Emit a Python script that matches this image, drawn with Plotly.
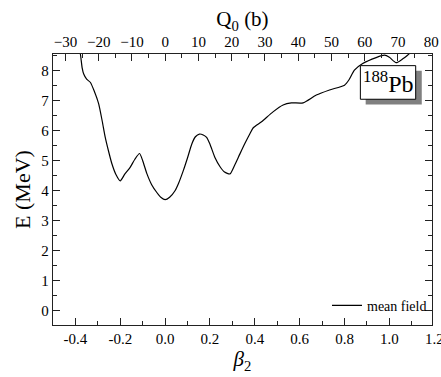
import plotly.graph_objects as go

beta = [-0.385, -0.378, -0.37, -0.363, -0.35, -0.333, -0.315, -0.296, -0.28, -0.267,
        -0.25, -0.237, -0.22, -0.2, -0.18, -0.156, -0.135, -0.114, -0.1, -0.081,
        -0.06, -0.037, -0.018, 0.0, 0.02, 0.044, 0.06, 0.081, 0.1, 0.119,
        0.135, 0.153, 0.17, 0.185, 0.2, 0.222, 0.245, 0.265, 0.289, 0.31,
        0.333, 0.356, 0.378, 0.393, 0.43, 0.481, 0.526, 0.563, 0.615, 0.674,
        0.733, 0.8, 0.82, 0.844, 0.881, 0.941, 0.978, 1.0, 1.03, 1.06, 1.081, 1.1]
energy = [8.75, 8.56, 8.1, 7.89, 7.72, 7.61, 7.3, 6.89, 6.3, 5.78,
          5.25, 4.89, 4.55, 4.33, 4.55, 4.78, 5.05, 5.24, 5.0, 4.56,
          4.2, 3.94, 3.77, 3.7, 3.78, 4.0, 4.25, 4.67, 5.1, 5.56,
          5.8, 5.89, 5.86, 5.78, 5.55, 5.11, 4.8, 4.62, 4.56, 4.85,
          5.22, 5.58, 5.9, 6.1, 6.3, 6.63, 6.86, 6.93, 6.93, 7.19,
          7.36, 7.52, 7.7, 8.02, 8.24, 8.44, 8.52, 8.45, 8.27, 8.4, 8.52, 8.65]

beta_ticks = [-0.4, -0.2, 0.0, 0.2, 0.4, 0.6, 0.8, 1.0]
beta_labels = ["-0.4", "-0.2", "0.0", "0.2", "0.4", "0.6", "0.8", "1.0"]
beta_cut_tick = 1.2
beta_cut_label = "1.2"
q0_ticks = [-30, -20, -10, 0, 10, 20, 30, 40, 50, 60, 70, 80]
e_ticks = [0, 1, 2, 3, 4, 5, 6, 7, 8]

FONT = "Liberation Serif, Times New Roman, serif"
AX = "#222222"
XR = [-0.5, 1.19]
TF = 15

fig = go.Figure()
fig.add_trace(go.Scatter(x=beta, y=energy, mode="lines", name="mean field",
                         line=dict(color="black", width=1.2, shape="spline", smoothing=0.6)))
fig.add_trace(go.Scatter(x=[None], y=[None], xaxis="x2", showlegend=False, hoverinfo="skip"))

fig.update_layout(
    width=441, height=377,
    margin=dict(l=52.5, r=8.5, t=54, b=52, autoexpand=False),
    paper_bgcolor="white", plot_bgcolor="white",
    font=dict(family=FONT, color="black", size=TF),
    xaxis=dict(range=XR, tickvals=beta_ticks, ticktext=beta_labels, automargin=False,
               ticks="inside", ticklen=7, tickwidth=1, tickcolor=AX,
               minor=dict(dtick=0.1, tick0=0, ticks="inside", ticklen=3.5, tickcolor=AX),
               showline=True, linecolor=AX, linewidth=1.3, mirror=False,
               showgrid=False, zeroline=False,
               tickfont=dict(size=TF, family=FONT),
               title=dict(text="<i>β</i><sub>2</sub>", font=dict(size=21, family=FONT), standoff=2)),
    xaxis2=dict(range=[-33.75, 80.25], overlaying="x", side="top", anchor="y", automargin=False,
                tickvals=q0_ticks, ticks="inside", ticklen=7, tickwidth=1, tickcolor=AX,
                minor=dict(dtick=5, tick0=0, ticks="inside", ticklen=3.5, tickcolor=AX),
                showline=True, linecolor=AX, linewidth=1.3,
                showgrid=False, zeroline=False,
                tickfont=dict(size=TF, family=FONT),
                title=dict(text="Q<sub>0</sub> (b)", font=dict(size=21, family=FONT), standoff=0)),
    yaxis=dict(range=[-0.48, 8.56], tickvals=e_ticks, automargin=False,
               ticks="inside", ticklen=7, tickwidth=1, tickcolor=AX,
               minor=dict(dtick=0.5, tick0=0, ticks="inside", ticklen=3.5, tickcolor=AX),
               showline=True, linecolor=AX, linewidth=1.3, mirror="ticks",
               showgrid=False, zeroline=False,
               tickfont=dict(size=TF, family=FONT),
               title=dict(text="E (MeV)", font=dict(size=22, family=FONT), standoff=4)),
    legend=dict(x=1.0, y=0.012, xanchor="right", yanchor="bottom",
                bgcolor="rgba(0,0,0,0)", font=dict(size=14, family=FONT),
                itemwidth=30, tracegroupgap=0),
    showlegend=True,
)

# major tick at 1.2 lies just outside the plotted range: its label is cut by the page edge
cut_paper_x = (beta_cut_tick - XR[0]) / (XR[1] - XR[0])
fig.add_annotation(xref="paper", yref="paper", x=cut_paper_x, y=0, yshift=-4,
                   text=beta_cut_label, showarrow=False, xanchor="center", yanchor="top",
                   font=dict(size=TF, family=FONT, color="black"))

# shadowed label box
fig.add_shape(type="rect", xref="paper", yref="paper", x0=0.825, x1=0.973, y0=0.814, y1=0.938,
              fillcolor="#808080", line=dict(width=0), layer="above")
fig.add_shape(type="rect", xref="paper", yref="paper", x0=0.811, x1=0.957, y0=0.833, y1=0.957,
              fillcolor="white", line=dict(color="black", width=1), layer="above")
fig.add_annotation(xref="paper", yref="paper", x=0.884, y=0.895, showarrow=False,
                   text="<sup>188</sup>Pb", font=dict(size=24, family=FONT, color="black"),
                   xanchor="center", yanchor="middle")

fig.write_html("out.html", config={"displayModeBar": False},
               post_script="document.body.style.margin='0';")
